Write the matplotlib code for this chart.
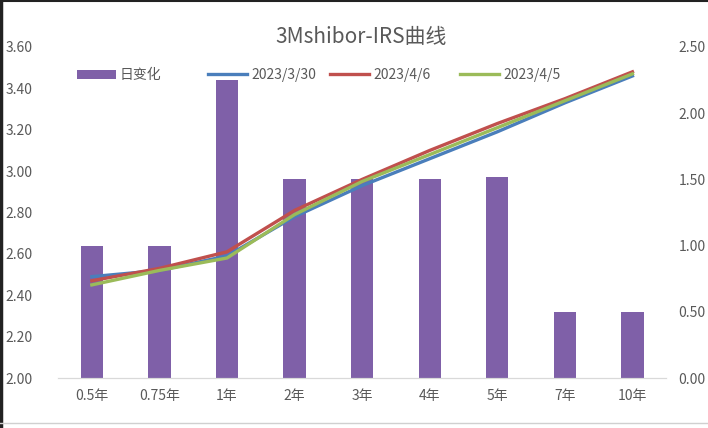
import matplotlib
matplotlib.use("Agg")
import matplotlib.pyplot as plt
from matplotlib.lines import Line2D
import numpy as np

plt.rcParams['font.family'] = ['Noto Sans CJK SC', 'DejaVu Sans']

categories = ['0.5年', '0.75年', '1年', '2年', '3年', '4年', '5年', '7年', '10年']
daily_change = [1.00, 1.00, 2.25, 1.50, 1.50, 1.50, 1.52, 0.50, 0.50]
s_0330 = [2.49, 2.52, 2.59, 2.78, 2.93, 3.06, 3.19, 3.33, 3.46]
s_0406 = [2.47, 2.53, 2.61, 2.81, 2.96, 3.10, 3.23, 3.35, 3.48]
s_0405 = [2.45, 2.52, 2.58, 2.79, 2.95, 3.08, 3.21, 3.34, 3.47]
left_ticks = [2.00, 2.20, 2.40, 2.60, 2.80, 3.00, 3.20, 3.40, 3.60]
right_ticks = [0.00, 0.50, 1.00, 1.50, 2.00, 2.50]

gray = '#595959'
fig = plt.figure(figsize=(7.08, 4.28), dpi=100)
ax = fig.add_axes([0.082, 0.1168, 0.859, 0.7734])
ax2 = ax.twinx()
x = np.arange(len(categories))

bars = ax2.bar(x, daily_change, width=0.33, color='#7F60A8', label='日变化')
l1, = ax.plot(x, s_0330, color='#4A7EBB', lw=2.4, label='2023/3/30')
l2, = ax.plot(x, s_0406, color='#C0504D', lw=2.4, label='2023/4/6')
l3, = ax.plot(x, s_0405, color='#9BBB59', lw=2.4, label='2023/4/5')
ax.set_zorder(ax2.get_zorder() + 1)
ax.patch.set_visible(False)

ax.set_xlim(-0.5, len(categories) - 0.5)
ax.set_ylim(2.0, 3.6)
ax2.set_ylim(0, 2.5)
ax.set_yticks(left_ticks)
ax.set_yticklabels([f'{v:.2f}' for v in left_ticks])
ax2.set_yticks(right_ticks)
ax2.set_yticklabels([f'{v:.2f}' for v in right_ticks])
ax.set_xticks(x)
ax.set_xticklabels(categories)

for a in (ax, ax2):
    for s in ('top', 'left', 'right'):
        a.spines[s].set_visible(False)
    a.spines['bottom'].set_color('#D9D9D9')
    a.tick_params(length=0, colors=gray, labelsize=10)
ax.tick_params(axis='y', pad=38)
ax2.tick_params(axis='y', pad=9)
ax.tick_params(axis='x', pad=8)
for t in ax.get_yticklabels():
    t.set_ha('left')

fig.text(0.51, 0.913, '3Mshibor-IRS曲线', ha='center', va='center', fontsize=15, color=gray)

handles = [bars, l1, l2, l3]
labels = ['日变化', '2023/3/30', '2023/4/6', '2023/4/5']
starts = [77, 208, 330, 460]
for h, lab, sx in zip(handles, labels, starts):
    lg = fig.legend([h], [lab], loc='center left', bbox_to_anchor=(sx / 708, 1 - 75 / 428),
                    frameon=False, fontsize=10, handlelength=2.8, handleheight=0.6,
                    handletextpad=0.3, borderpad=0, borderaxespad=0, labelcolor=gray)

fig.add_artist(Line2D([0.002, 0.002], [0, 1], transform=fig.transFigure, color='#222222', lw=2.5))
fig.add_artist(Line2D([0, 1], [0.997, 0.997], transform=fig.transFigure, color='#222222', lw=1.5))
fig.add_artist(Line2D([0, 1], [0.012, 0.012], transform=fig.transFigure, color='#D0D0D0', lw=1))

fig.savefig('out.png', dpi=100)
